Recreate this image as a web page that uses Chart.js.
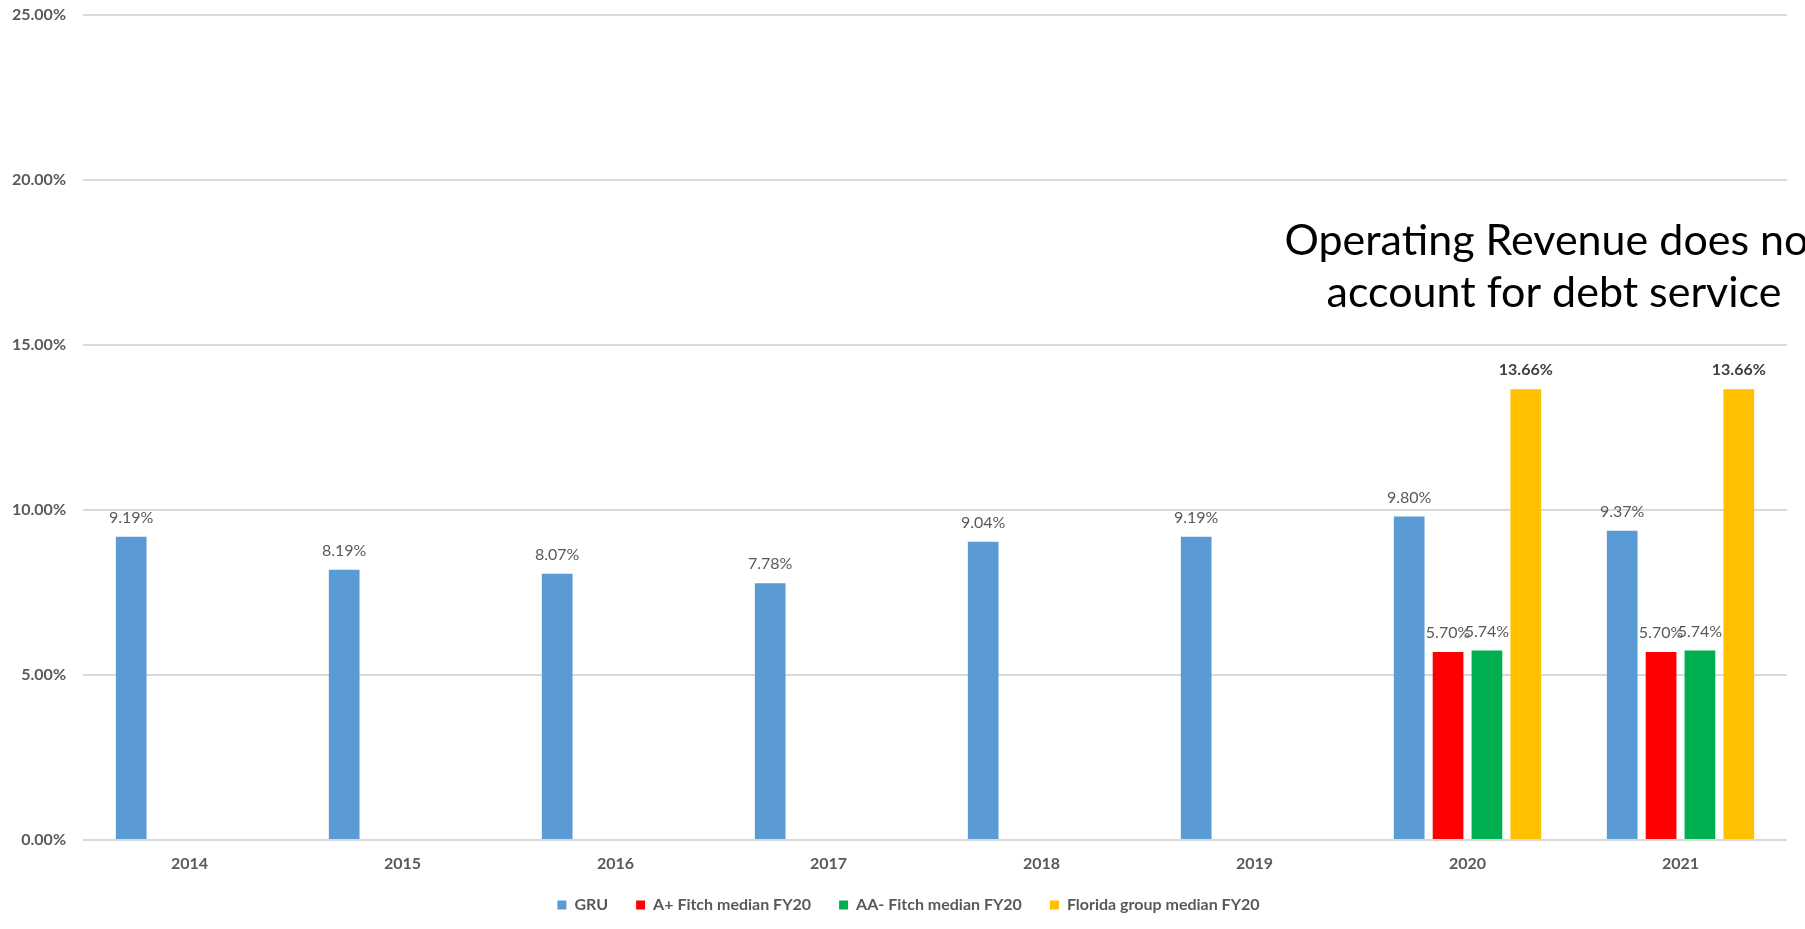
<!DOCTYPE html>
<html>
<head>
<meta charset="utf-8">
<script src="https://cdn.jsdelivr.net/npm/chart.js@4.4.0/dist/chart.umd.min.js"></script>
<style>
  body { margin: 0; background: #fff; }
</style>
</head>
<body>
<canvas id="chart1" width="1805" height="929"></canvas>
<script>
// values in percent
const years = ['2014', '2015', '2016', '2017', '2018', '2019', '2020', '2021'];
const gru = [9.19, 8.19, 8.07, 7.78, 9.04, 9.19, 9.80, 9.37];
const aPlusFitch = [null, null, null, null, null, null, 5.70, 5.70];
const aaMinusFitch = [null, null, null, null, null, null, 5.74, 5.74];
const floridaMedian = [null, null, null, null, null, null, 13.66, 13.66];
const yTicks = [0, 5, 10, 15, 20, 25];
const note = ['Operating Revenue does not', 'account for debt service'];

const grey = '#595959';

// value labels above each bar
const barLabels = {
    id: 'barLabels',
    afterDatasetsDraw(chart) {
        const ctx = chart.ctx;
        chart.data.datasets.forEach((ds, i) => {
            const meta = chart.getDatasetMeta(i);
            meta.data.forEach((bar, j) => {
                const v = ds.data[j];
                if (v == null) return;
                ctx.save();
                ctx.font = (ds.boldLabel ? 'bold ' : '') + '16px Lato';
                ctx.fillStyle = ds.boldLabel ? '#404040' : grey;
                ctx.textAlign = 'center';
                ctx.textBaseline = 'middle';
                ctx.fillText(v.toFixed(2) + '%', bar.x, bar.y - 19);
                ctx.restore();
            });
        });
    }
};

// the note on the right, runs off the edge
const sideNote = {
    id: 'sideNote',
    afterDraw(chart) {
        const ctx = chart.ctx;
        ctx.save();
        ctx.font = '43px Lato';
        ctx.fillStyle = '#000';
        ctx.textAlign = 'center';
        ctx.textBaseline = 'alphabetic';
        ctx.fillText(note[0], 1554, 255);
        ctx.fillText(note[1], 1554, 307);
        ctx.restore();
    }
};

// tick labels spill a little past their boxes, so widen the clip areas
const looseLabels = {
    id: 'looseLabels',
    afterLayout(chart) {
        chart.scales.x.bottom += 12;
        chart.scales.y.left -= 28;
    }
};

function createChart() {
    const ctx = document.getElementById('chart1');
    new Chart(ctx, {
        type: 'bar',
        data: {
            labels: years,
            datasets: [
                { label: 'GRU', data: gru, backgroundColor: '#5b9bd5' },
                { label: 'A+ Fitch median FY20', data: aPlusFitch, backgroundColor: '#ff0000' },
                { label: 'AA- Fitch median FY20', data: aaMinusFitch, backgroundColor: '#00b050' },
                { label: 'Florida group median FY20', data: floridaMedian, backgroundColor: '#ffc000', boldLabel: true }
            ]
        },
        options: {
            responsive: false,
            animation: false,
            categoryPercentage: 0.73,
            barPercentage: 0.79,
            layout: { padding: { left: 30, right: 18, top: 15, bottom: 6 } },
            plugins: {
                tooltip: { enabled: false },
                legend: {
                    position: 'bottom',
                    labels: {
                        boxWidth: 9,
                        boxHeight: 9,
                        padding: 28,
                        color: grey,
                        font: { family: 'Lato', size: 16, weight: 'bold' }
                    }
                }
            },
            scales: {
                x: {
                    grid: { display: false, drawTicks: false },
                    border: { display: false },
                    afterFit: s => { s.height = 29; },
                    ticks: {
                        color: grey,
                        padding: 14,
                        font: { family: 'Lato', size: 16, weight: 'bold' }
                    }
                },
                y: {
                    min: 0,
                    max: 25,
                    afterBuildTicks: s => { s.ticks = yTicks.map(v => ({ value: v })); },
                    afterFit: s => { s.width = 53; s.paddingTop = 0; s.paddingBottom = 0; },
                    grid: { color: '#d9d9d9', lineWidth: 2, drawTicks: false },
                    border: { display: false },
                    ticks: {
                        color: grey,
                        padding: 17,
                        font: { family: 'Lato', size: 16, weight: 'bold' },
                        callback: v => v.toFixed(2) + '%'
                    }
                }
            }
        },
        plugins: [barLabels, sideNote, looseLabels]
    });
}

createChart();
</script>
</body>
</html>
